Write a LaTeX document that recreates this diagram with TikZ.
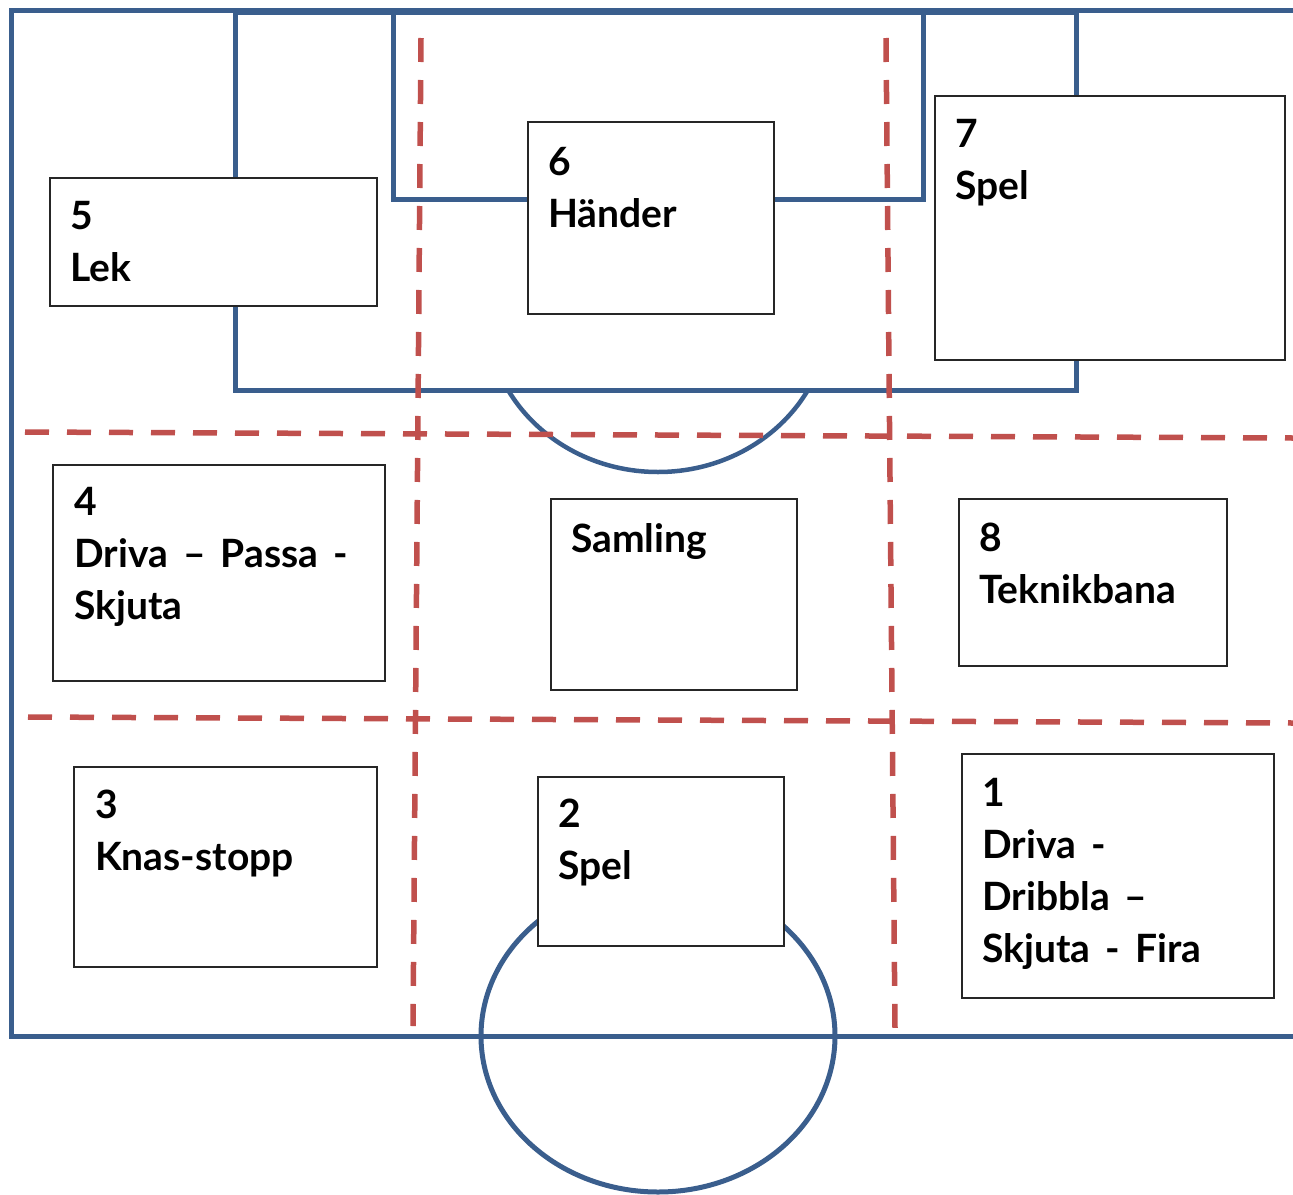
\documentclass[tikz,border=0pt]{standalone}
\usepackage{fontspec}
\setmainfont{Lato}[WordSpace=1.6]
\definecolor{fieldblue}{HTML}{3A5E8D}
\definecolor{zonered}{HTML}{C0504D}
\begin{document}
\begin{tikzpicture}[x=1pt,y=-1pt,
  field/.style={draw=fieldblue,line width=5pt,line join=miter},
  thin field/.style={draw=fieldblue,line width=4.5pt},
  zone/.style={draw=zonered,line width=5.5pt,dash pattern=on 24pt off 18pt},
  box/.style={draw=black!85,line width=1.4pt,fill=white,anchor=north west,inner sep=0,outer sep=0},
  lbl/.style={anchor=north west,inner sep=0,align=left,font=\fontsize{39}{52}\selectfont\bfseries},
]
\useasboundingbox (0,0) rectangle (1293,1194);
% field
\draw[field] (1300,10.5) -- (11,10.5) -- (11,1036) -- (1300,1036);
\draw[field] (235,12.5) -- (235,390) -- (1076,390) -- (1076,12.5);
\draw[field] (235,12.5) -- (1076,12.5);
\draw[field] (393,14) -- (393,199.5) -- (923,199.5) -- (923,14);
\draw[field] (658,1036) ellipse [x radius=177, y radius=156];
\begin{scope}
  \clip (400,390) rectangle (900,490);
  \draw[thin field] (658,314) ellipse [x radius=171, y radius=158];
\end{scope}
% zones
\coordinate (v1t) at (421,38); \coordinate (v1b) at (413,1026);
\coordinate (v2t) at (886,38); \coordinate (v2b) at (895,1028);
\coordinate (h1l) at (25,432); \coordinate (h1r) at (1293,438);
\coordinate (h2l) at (28,717); \coordinate (h2r) at (1293,723);
\draw[zone] (v1t) -- (v1b);
\draw[zone] (v2t) -- (v2b);
\draw[zone] (h1l) -- (h1r);
\draw[zone] (h2l) -- (h2r);
% boxes
\node[box,minimum width=327,minimum height=128] (b5) at (50,178) {};
\node[box,minimum width=246,minimum height=192] (b6) at (528,122) {};
\node[box,minimum width=350,minimum height=264] (b7) at (935,96) {};
\node[box,minimum width=332,minimum height=216] (b4) at (53,465) {};
\node[box,minimum width=246,minimum height=191] (bs) at (551,499) {};
\node[box,minimum width=268,minimum height=167] (b8) at (959,499) {};
\node[box,minimum width=303,minimum height=200] (b3) at (74,767) {};
\node[box,minimum width=246,minimum height=169] (b2) at (538,777) {};
\node[box,minimum width=312,minimum height=244] (b1) at (962,754) {};
% labels
\node[lbl] (t5) at ([shift={(20,21)}]b5.north west) {\rule{0pt}{30pt}5\\Lek};
\node[lbl] (t6) at ([shift={(20,23)}]b6.north west) {\rule{0pt}{30pt}6\\Händer};
\node[lbl] (t7) at ([shift={(20,21)}]b7.north west) {\rule{0pt}{30pt}7\\Spel};
\node[lbl] (t4) at ([shift={(21,20)}]b4.north west) {\rule{0pt}{30pt}4\\Driva – Passa -\\Skjuta};
\node[lbl] (ts) at ([shift={(20,23)}]bs.north west) {\rule{0pt}{30pt}Samling};
\node[lbl] (t8) at ([shift={(20,22)}]b8.north west) {\rule{0pt}{30pt}8\\Teknikbana};
\node[lbl] (t3) at ([shift={(21,21)}]b3.north west) {\rule{0pt}{30pt}3\\Knas-stopp};
\node[lbl] (t2) at ([shift={(20,20)}]b2.north west) {\rule{0pt}{30pt}2\\Spel};
\node[lbl] (t1) at ([shift={(20,22)}]b1.north west) {\rule{0pt}{30pt}1\\Driva -\\Dribbla –\\Skjuta - Fira};
\end{tikzpicture}
\end{document}
